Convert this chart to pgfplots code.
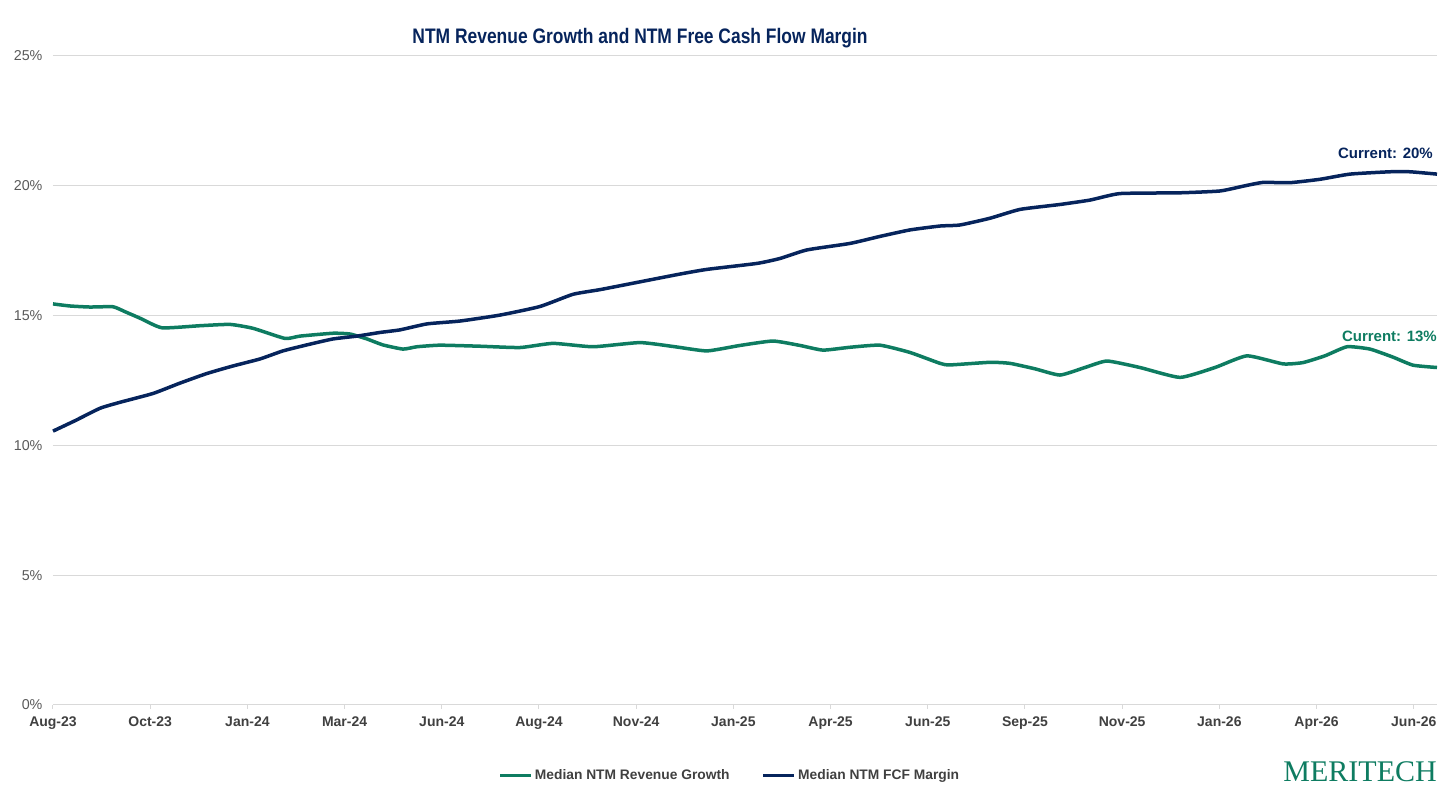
\documentclass[border=0pt]{standalone}
\usepackage{pgfplots}
\pgfplotsset{compat=1.18}
\usepackage{fontspec}
\usepackage{graphicx}
\setmainfont{Liberation Sans}
\newfontfamily\logofont{Liberation Serif}
\definecolor{mgreen}{RGB}{14,124,97}
\definecolor{mnavy}{RGB}{6,36,92}
\definecolor{tgray}{RGB}{64,64,64}
\definecolor{ygray}{RGB}{89,89,89}
\definecolor{ggrid}{RGB}{217,217,217}
\begin{document}
\begin{tikzpicture}
\path[use as bounding box] (-53pt,-94pt) rectangle (1403pt,705pt);
\begin{axis}[
  scale only axis,
  width=1384pt, height=649pt,
  xmin=0, xmax=14.239, ymin=0, ymax=25,
  clip=false,
  axis x line*=bottom, axis y line*=left,
  x axis line style={draw=ggrid, line width=1pt, -},
  y axis line style={draw=none},
  xtick={0,...,14},
  xticklabels={Aug-23,Oct-23,Jan-24,Mar-24,Jun-24,Aug-24,Nov-24,Jan-25,Apr-25,Jun-25,Sep-25,Nov-25,Jan-26,Apr-26,Jun-26},
  ytick={0,5,10,15,20,25},
  yticklabels={0\%,5\%,10\%,15\%,20\%,25\%},
  xtick style={draw=ggrid, line width=1pt},
  ytick style={draw=none},
  major tick length=4pt,
  tick align=outside,
  ymajorgrids,
  major grid style={draw=ggrid, line width=1pt},
  xticklabel style={font=\fontsize{14}{16}\selectfont\bfseries, text=tgray, yshift=-4pt},
  yticklabel style={font=\fontsize{14.3}{16}\selectfont, text=ygray, xshift=-3pt},
  legend columns=2,
  legend style={at={(0.489,-0.109)}, anchor=center, draw=none, fill=none,
    font=\fontsize{13.8}{16}\selectfont\bfseries, text=tgray,
    /tikz/every even column/.append style={column sep=30pt},
    nodes={inner sep=2pt}},
  legend image code/.code={\draw[#1, line width=3.5pt] (0pt,0pt) -- (31pt,0pt);},
  every axis plot/.append style={line width=3.5pt, line join=round, smooth, tension=0.3},
]
\addplot[mgreen] coordinates {
(0,15.45) (0.175,15.37) (0.381,15.33) (0.617,15.34) (0.741,15.15) (0.895,14.90)
(1.121,14.53) (1.512,14.61) (1.821,14.66) (2.058,14.51) (2.387,14.12) (2.541,14.21)
(2.881,14.32) (3.056,14.29) (3.230,14.10) (3.395,13.87) (3.601,13.71) (3.745,13.80)
(3.981,13.86) (4.393,13.82) (4.805,13.77) (5.144,13.93) (5.556,13.80) (6.039,13.96)
(6.399,13.80) (6.728,13.64) (7.068,13.85) (7.407,14.02) (7.685,13.85) (7.922,13.67)
(8.200,13.78) (8.508,13.86) (8.817,13.58) (9.126,13.16) (9.228,13.10) (9.640,13.20)
(9.846,13.16) (10.103,12.95) (10.360,12.71) (10.617,13.00) (10.844,13.25) (11.183,13.00)
(11.595,12.62) (11.955,13.00) (12.284,13.45) (12.654,13.14) (12.860,13.19) (13.086,13.45)
(13.313,13.80) (13.549,13.71) (13.786,13.40) (13.992,13.09) (14.239,13.00)
};
\addlegendentry{Median NTM Revenue Growth}
\addplot[mnavy] coordinates {
(0,10.55) (0.226,10.95) (0.484,11.43) (0.689,11.66) (1.029,12.00) (1.307,12.40)
(1.584,12.77) (1.852,13.06) (2.130,13.33) (2.366,13.64) (2.644,13.90) (2.881,14.10)
(3.128,14.21) (3.364,14.35) (3.570,14.45) (3.848,14.68) (4.187,14.79) (4.599,15.02)
(5.010,15.35) (5.350,15.82) (5.628,16.00) (6.039,16.30) (6.451,16.60) (6.728,16.78)
(7.243,17.01) (7.479,17.20) (7.757,17.53) (8.200,17.78) (8.508,18.05) (8.817,18.30)
(9.126,18.45) (9.331,18.49) (9.640,18.75) (9.949,19.09) (10.360,19.28) (10.669,19.45)
(10.977,19.70) (11.595,19.73) (12.006,19.80) (12.263,20.00) (12.449,20.13) (12.726,20.12)
(13.035,20.25) (13.344,20.45) (13.755,20.54) (13.961,20.54) (14.239,20.45)
};
\addlegendentry{Median NTM FCF Margin}
\node[anchor=base east, inner sep=0pt, text=mnavy, font=\fontsize{15}{17}\selectfont\bfseries] at (axis cs:14.198,21.07) {Current: 20\%};
\node[anchor=base east, inner sep=0pt, text=mgreen, font=\fontsize{15}{17}\selectfont\bfseries] at (axis cs:14.239,13.99) {Current: 13\%};
\node[anchor=base east, inner sep=0pt, text=mgreen, font=\logofont\fontsize{30}{32}\selectfont] at (axis cs:14.239,-2.95) {MERITECH};
\node[anchor=base, inner sep=0pt, text=mnavy, font=\fontsize{21}{24}\selectfont\bfseries] at (axis cs:6.04,25.5) {\scalebox{0.83}[1]{NTM Revenue Growth and NTM Free Cash Flow Margin}};
\end{axis}
\end{tikzpicture}
\end{document}
